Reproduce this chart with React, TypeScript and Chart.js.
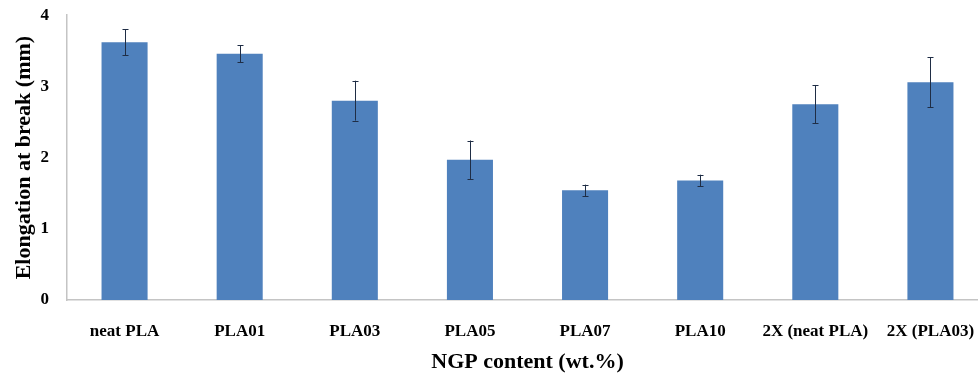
import React, { useEffect, useRef } from "react";
import { Chart, registerables } from "chart.js";

Chart.register(...registerables);

const categories = ["neat PLA", "PLA01", "PLA03", "PLA05", "PLA07", "PLA10", "2X (neat PLA)", "2X (PLA03)"];
const elongation = [3.62, 3.46, 2.80, 1.97, 1.54, 1.68, 2.75, 3.06];
const errors = [0.18, 0.12, 0.28, 0.27, 0.08, 0.08, 0.27, 0.35];
const yTicks = [0, 1, 2, 3, 4];

const FONT = "'Liberation Serif', 'Times New Roman', serif";

const errorBarPlugin = {
  id: "errorBars",
  afterDatasetsDraw(chart: any) {
    const { ctx, scales } = chart;
    const meta = chart.getDatasetMeta(0);
    const y = scales.y;
    ctx.save();
    ctx.strokeStyle = "#1f2d45";
    ctx.lineWidth = 1;
    meta.data.forEach((bar: any, i: number) => {
      const v = elongation[i];
      const e = errors[i];
      const x = Math.round(bar.x) + 0.5;
      const yt = y.getPixelForValue(v + e);
      const yb = y.getPixelForValue(v - e);
      const cap = 3;
      ctx.beginPath();
      ctx.moveTo(x, yt);
      ctx.lineTo(x, yb);
      ctx.moveTo(x - cap, Math.round(yt) + 0.5);
      ctx.lineTo(x + cap, Math.round(yt) + 0.5);
      ctx.moveTo(x - cap, Math.round(yb) + 0.5);
      ctx.lineTo(x + cap, Math.round(yb) + 0.5);
      ctx.stroke();
    });
    ctx.restore();
  },
};

export default function App() {
  const ref = useRef<HTMLCanvasElement>(null);
  useEffect(() => {
    document.body.style.overflow = "hidden";
    const chart = new Chart(ref.current!, {
      type: "bar",
      data: {
        labels: categories,
        datasets: [
          {
            data: elongation,
            backgroundColor: "#4f81bd",
            borderWidth: 0,
            barPercentage: 0.4,
            categoryPercentage: 1,
          },
        ],
      },
      options: {
        animation: false,
        responsive: false,
        maintainAspectRatio: false,
        layout: { padding: { top: 0, right: 12, left: 0, bottom: 0 } },
        plugins: { legend: { display: false }, tooltip: { enabled: false } },
        scales: {
          x: {
            grid: { display: false, drawTicks: false },
            border: { display: true, color: "#c4c4c4", width: 1.5 },
            ticks: {
              padding: 21,
              color: "#000",
              font: { family: FONT, size: 17, weight: "bold" },
              maxRotation: 0,
              autoSkip: false,
            },
            title: {
              display: true,
              text: "NGP content (wt.%)",
              color: "#000",
              font: { family: FONT, size: 22, weight: "bold" },
              padding: { top: 4, bottom: 3 },
            },
            afterFit(scale: any) {
              scale.height = 79;
            },
          },
          y: {
            min: 0,
            max: 4,
            afterBuildTicks(scale: any) {
              scale.ticks = yTicks.map((v) => ({ value: v }));
            },
            grid: { display: false, drawTicks: false },
            border: { display: true, color: "#c4c4c4", width: 1.5 },
            ticks: {
              padding: 18,
              color: "#000",
              font: { family: FONT, size: 17, weight: "bold" },
            },
            title: {
              display: true,
              text: "Elongation at break (mm)",
              color: "#000",
              font: { family: FONT, size: 22, weight: "bold" },
              padding: { top: 11, bottom: 4 },
            },
            afterFit(scale: any) {
              scale.width = 67;
            },
          },
        },
      },
      plugins: [errorBarPlugin],
    });
    return () => chart.destroy();
  }, []);
  return (
    <canvas
      ref={ref}
      width={1000}
      height={392}
      style={{ position: "fixed", left: 0, top: -13, width: 1000, height: 392, background: "#fff" }}
    />
  );
}
